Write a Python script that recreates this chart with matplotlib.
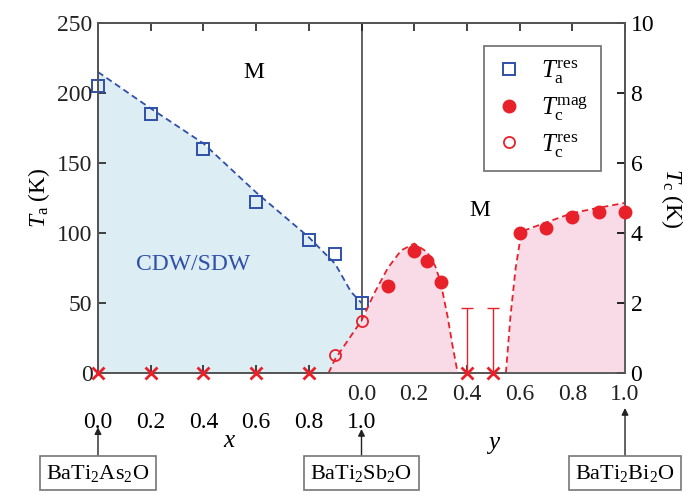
import numpy as np
import matplotlib
matplotlib.use("Agg")
import matplotlib.pyplot as plt
import matplotlib.transforms as mtransforms

plt.rcParams['font.family'] = ['Liberation Serif', 'DejaVu Serif']
plt.rcParams['mathtext.fontset'] = 'custom'
plt.rcParams['mathtext.rm'] = 'Liberation Serif'
plt.rcParams['mathtext.it'] = 'Liberation Serif:italic'

# T_a (resistivity), left panel, x in BaTi2(As1-xSbx)2O
x_ta = [0.0, 0.2, 0.4, 0.6, 0.8, 0.9, 1.0]
ta_res = [205, 185, 160, 122, 95, 85, 50]
# guide line for T_a
x_ta_line = [0.0, 0.2, 0.4, 0.6, 0.8, 0.9, 0.96, 1.0]
ta_line = [215, 189, 164, 129, 97, 78, 58, 50]

# T_c (magnetization), right panel, y in BaTi2(Sb1-yBiy)2O
y_tc_mag = [0.1, 0.2, 0.25, 0.3, 0.6, 0.7, 0.8, 0.9, 1.0]
tc_mag = [2.5, 3.5, 3.2, 2.6, 4.0, 4.15, 4.45, 4.6, 4.6]
# T_c (resistivity), left panel x
x_tc_res = [0.9, 1.0]
tc_res = [0.5, 1.5]

# SC dome guide lines (x-panel position, then y-panel)
x_dome1 = [0.875, 0.9, 0.95, 1.0]
tc_dome1a = [0.0, 0.4, 0.95, 1.5]
y_dome1 = [0.0, 0.05, 0.1, 0.15, 0.2, 0.25, 0.28, 0.3, 0.327, 0.345, 0.365]
tc_dome1b = [1.5, 2.3, 3.0, 3.5, 3.7, 3.45, 3.05, 2.6, 1.6, 0.8, 0.0]
y_dome2 = [0.548, 0.565, 0.585, 0.6, 0.61, 0.7, 0.8, 0.9, 1.0]
tc_dome2 = [0.0, 1.6, 3.0, 3.7, 4.05, 4.3, 4.57, 4.72, 4.86]

# no transition found
x_none = [0.0, 0.2, 0.4, 0.6, 0.8]
y_none = [0.4, 0.5]
y_none_err = [1.85, 1.85]

x_ticks = [0.0, 0.2, 0.4, 0.6, 0.8, 1.0]
y_ticks = [0.0, 0.2, 0.4, 0.6, 0.8, 1.0]

blue = '#2f4fa8'
red = '#e8202a'
lightblue = '#dcedf3'
pink = '#f9dbe7'
spine_col = '#555555'

fig = plt.figure(figsize=(6.93, 4.97), dpi=100)
ax = fig.add_axes([0.1414, 0.2495, 0.7605, 0.7042])
ax2 = ax.twinx()

# right panel plotted at 1 + y
Y = lambda v: [1.0 + t for t in v]

# fills
ax.fill_between(x_ta_line, ta_line, 0, color=lightblue, lw=0, zorder=0)
ax2.fill_between(x_dome1 + Y(y_dome1), tc_dome1a + tc_dome1b, 0, color=pink, lw=0, zorder=0)
ax2.fill_between(Y(y_dome2), tc_dome2, 0, color=pink, lw=0, zorder=0)

ax.axvline(1.0, color=spine_col, lw=1.3, zorder=1)

ax.plot(x_ta_line, ta_line, '--', color=blue, lw=1.3, dashes=(3.5, 2.2))
sq, = ax.plot(x_ta, ta_res, 's', mfc='none', mec=blue, mew=1.4, ms=9, zorder=5, clip_on=False)

ax2.plot(x_dome1 + Y(y_dome1), tc_dome1a + tc_dome1b, '--', color=red, lw=1.3, dashes=(3.5, 2.2))
ax2.plot(Y(y_dome2), tc_dome2, '--', color=red, lw=1.3, dashes=(3.5, 2.2))
fc, = ax2.plot(Y(y_tc_mag), tc_mag, 'o', color=red, ms=9, zorder=5, clip_on=False)
oc, = ax2.plot(x_tc_res, tc_res, 'o', mfc='none', mec=red, mew=1.3, ms=8, zorder=5)

ax2.errorbar(Y(y_none), [0, 0], yerr=[[0, 0], y_none_err], fmt='none',
             ecolor=red, elinewidth=1.0, capsize=4, capthick=1.0)
ax2.plot(x_none + Y(y_none), [0] * 7, 'x', color=red, ms=8, mew=2, clip_on=False, zorder=6)

ax.set_xlim(0, 2)
ax.set_ylim(0, 250)
ax2.set_ylim(0, 10)
ax.set_yticks([0, 50, 100, 150, 200, 250])
ax2.set_yticks([0, 2, 4, 6, 8, 10])

# bottom ticks: y labels on first row
ticks = [t for t in x_ticks[:-1]] + Y(y_ticks)
labels = [''] * 5 + ['%.1f' % t for t in y_ticks]
ax.set_xticks(ticks)
ax.set_xticklabels(labels)
ax.tick_params(axis='both', direction='in', length=6, width=1.2, colors='#222222',
               labelsize=17, top=True)
ax.tick_params(axis='x', labeltop=False, pad=8)
ax.tick_params(axis='y', pad=4)
ax2.tick_params(axis='y', direction='in', length=6, width=1.2, labelsize=17, pad=4)

# x labels on second row
sec = ax.secondary_xaxis('bottom')
sec.set_xticks(x_ticks)
sec.set_xticklabels(['%.1f' % t for t in x_ticks])
sec.tick_params(length=0, pad=28, labelsize=17)
sec.spines['bottom'].set_visible(False)

for a in (ax, ax2):
    for s in a.spines.values():
        s.set_color(spine_col)
        s.set_linewidth(1.3)

ax.set_ylabel('$T_\\mathrm{a}$ (K)', fontsize=17, labelpad=4)
ax2.set_ylabel('$T_\\mathrm{c}$ (K)', fontsize=17, rotation=270, labelpad=22)

trans = mtransforms.blended_transform_factory(ax.transData, ax.transAxes)
ax.text(0.5, -0.195, '$x$', transform=trans, fontsize=18, ha='center', va='center')
ax.text(1.5, -0.205, '$y$', transform=trans, fontsize=18, ha='center', va='center')

ax.text(0.59, 0.86, 'M', transform=trans, fontsize=17, ha='center', va='center')
ax.text(1.45, 0.465, 'M', transform=trans, fontsize=17, ha='center', va='center')
ax.text(0.36, 0.31, 'CDW/SDW', transform=trans, fontsize=17, color=blue, ha='center', va='center')
ax.text(1.165, 0.135, 'SC', transform=trans, fontsize=17, color=red, ha='center', va='center')
ax.text(1.795, 0.21, 'SC', transform=trans, fontsize=17, color=red, ha='center', va='center')

box = dict(boxstyle='square,pad=0.3', fc='white', ec='#777777', lw=1.2)
arrow = dict(arrowstyle='-|>', color='#222222', lw=1.0, mutation_scale=10, shrinkA=0, shrinkB=0)
for xpos, tip, name in [(0.0, -0.155, 'BaTi$_2$As$_2$O'),
                        (1.0, -0.16, 'BaTi$_2$Sb$_2$O'),
                        (2.0, -0.10, 'BaTi$_2$Bi$_2$O')]:
    ax.annotate(name, xy=(xpos, tip), xycoords=trans, xytext=(xpos, -0.286),
                textcoords=trans, fontsize=16, ha='center', va='center',
                bbox=box, arrowprops=arrow, annotation_clip=False)

leg = ax2.legend([sq, fc, oc],
                 ['$T_\\mathrm{a}^\\mathrm{res}$', '$T_\\mathrm{c}^\\mathrm{mag}$',
                  '$T_\\mathrm{c}^\\mathrm{res}$'],
                 loc='upper right', bbox_to_anchor=(0.955, 0.935), fontsize=18,
                 frameon=True, fancybox=False, handlelength=1.0, handletextpad=0.8,
                 borderpad=0.5, labelspacing=0.35, borderaxespad=0)
leg.get_frame().set_edgecolor('#555555')
leg.get_frame().set_linewidth(1.3)

fig.savefig('out.png', dpi=100)
